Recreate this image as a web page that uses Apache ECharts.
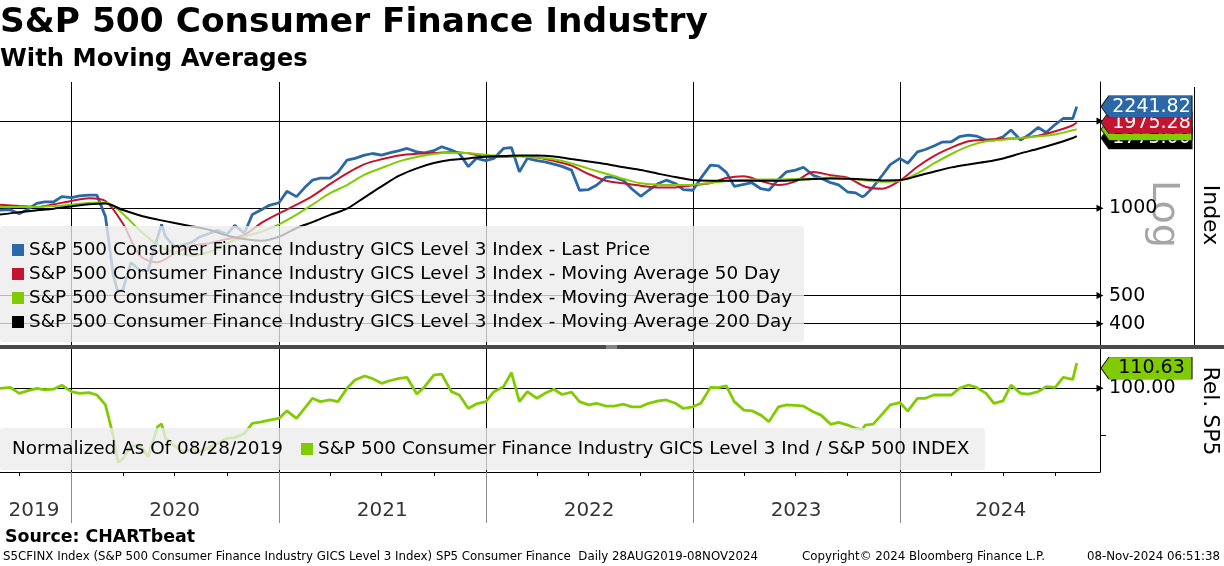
<!DOCTYPE html>
<html lang="en">
<head>
<meta charset="UTF-8">
<title>S&P 500 Consumer Finance Industry</title>
<script src="https://cdn.jsdelivr.net/npm/echarts@6.0.0/dist/echarts.min.js"></script>
<style>
  html, body { margin: 0; padding: 0; background: #fff; }
  #chart { width: 1224px; height: 566px; }
</style>
</head>
<body>
<div id="chart"></div>
<script>
// ---- data ----
// price and relative line: 28 Aug 2019, then the 1st and 15th of each month, then 8 Nov 2024
const priceDates = ['2019-08-28'];
for (let y = 2019; y <= 2024; y++) {
  for (let m = 1; m <= 12; m++) {
    for (const d of ['01', '15']) {
      const s = y + '-' + String(m).padStart(2, '0') + '-' + d;
      if (s > '2019-09-01' && s <= '2024-11-01') priceDates.push(s);
    }
  }
}
priceDates.push('2024-11-08');

const lastPrice = [
  985, 989, 958, 989, 1040, 1053, 1053, 1097,
  1089, 1103, 1110, 1110, 936, 585, 525, 650, 610, 610, 795, 798, 736, 745, 765, 798, 820, 840, 812, 873, 820, 952, 989, 1024,
  1045, 1144, 1097, 1176, 1250, 1270, 1270, 1330, 1466, 1486, 1525, 1545, 1525, 1552, 1580, 1608, 1566, 1552, 1580, 1630, 1587, 1545, 1392, 1486,
  1460, 1486, 1608, 1620, 1336, 1486, 1460, 1446, 1420, 1395, 1354, 1154, 1160, 1201, 1280, 1280, 1245, 1168, 1100, 1154, 1218, 1250, 1218, 1160,
  1154, 1270, 1409, 1400, 1330, 1190, 1210, 1225, 1168, 1154, 1258, 1336, 1354, 1385, 1300, 1270, 1225, 1205, 1138, 1130, 1110, 1185, 1300, 1415,
  1486, 1430, 1566, 1595, 1640, 1690, 1696, 1765, 1789, 1775, 1719, 1719, 1765, 1862, 1719, 1789, 1900, 1825, 1945, 2040, 2040, 2241.82
];

const relSP5 = [
  100.0, 100.4, 97.9, 98.9, 100.0, 99.4, 99.7, 101.3,
  98.6, 97.9, 98.2, 97.2, 93.0, 79.6, 70.4, 75.4, 76.1, 71.1, 83.8, 78.9, 75.7, 73.3, 74.0, 73.3, 75.2, 76.8, 78.9, 79.2, 81.0, 85.2, 85.9, 86.6,
  87.3, 90.5, 87.3, 91.5, 95.8, 94.4, 95.1, 94.4, 100.0, 103.5, 105.2, 104.1, 102.1, 103.2, 104.2, 104.6, 97.6, 100.7, 105.6, 106.0, 98.6, 97.2, 91.5, 93.4,
  94.4, 98.6, 100.7, 106.6, 94.4, 98.6, 95.8, 97.9, 99.6, 97.4, 98.4, 94.4, 93.0, 93.7, 92.5, 92.5, 93.3, 92.2, 92.2, 93.7, 94.7, 95.1, 93.7, 91.5,
  92.2, 93.7, 100.4, 100.3, 101.0, 94.4, 90.8, 90.5, 88.7, 85.9, 92.2, 93.0, 92.8, 92.5, 90.1, 88.7, 84.8, 85.6, 84.5, 83.1, 84.5, 84.9, 89.1, 93.0,
  94.0, 90.4, 95.8, 95.8, 97.2, 97.2, 97.2, 100.0, 101.4, 100.4, 97.9, 93.7, 94.7, 101.4, 97.9, 97.6, 98.6, 100.7, 100.4, 104.6, 103.8, 110.63
];

// extra turning points read between the half-month samples
const extraDates = ['2020-03-23', '2020-06-08', '2023-10-27'];
const extraPrice = [515, 880, 1095];
const extraRel = [68.8, 85.0, 82.6];

// moving averages: 28 Aug, 1 Oct, 1 Nov, 1 Dec 2019, then the 1st of each month, then 8 Nov 2024
const maDates = ['2019-08-28', '2019-10-01', '2019-11-01', '2019-12-01'];
for (let y = 2020; y <= 2024; y++) {
  for (let m = 1; m <= 12; m++) {
    const s = y + '-' + String(m).padStart(2, '0') + '-01';
    if (s <= '2024-11-01') maDates.push(s);
  }
}
maDates.push('2024-11-08');

const ma50 = [
  1029, 1018, 1010, 1032,
  1060, 1084, 1060, 884, 686, 651, 699, 743, 757, 783, 810, 890,
  960, 1029, 1102, 1212, 1320, 1420, 1476, 1522, 1543, 1551, 1559, 1547,
  1506, 1506, 1514, 1498, 1457, 1403, 1313, 1245, 1219, 1196, 1180, 1180,
  1200, 1222, 1272, 1289, 1242, 1203, 1238, 1334, 1300, 1275, 1187, 1168,
  1245, 1391, 1514, 1618, 1702, 1724, 1738, 1748, 1780, 1843, 1933, 1975.28
];
const ma100 = [
  1010, 1010, 1010, 1018,
  1029, 1045, 1048, 956, 837, 749, 704, 688, 708, 757, 799, 830,
  880, 951, 1029, 1127, 1203, 1306, 1377, 1451, 1502, 1539, 1555, 1551,
  1526, 1514, 1510, 1498, 1476, 1428, 1370, 1316, 1262, 1219, 1206, 1203,
  1206, 1222, 1242, 1255, 1258, 1258, 1262, 1268, 1277, 1268, 1248, 1235,
  1245, 1320, 1428, 1539, 1638, 1702, 1724, 1748, 1771, 1798, 1858, 1872
];
const ma200 = [
  951, 970, 984, 997,
  1015, 1032, 1038, 986, 944, 914, 889, 866, 842, 806, 783, 773,
  798, 855, 896, 949, 997, 1091, 1190, 1295, 1373, 1432, 1470, 1486,
  1510, 1514, 1522, 1522, 1510, 1478, 1451, 1421, 1384, 1355, 1316, 1281,
  1251, 1245, 1245, 1245, 1245, 1245, 1251, 1262, 1268, 1265, 1258, 1248,
  1251, 1292, 1337, 1384, 1417, 1447, 1486, 1547, 1604, 1669, 1748, 1775
];

const priceGrid = [2000, 1000, 500, 400];
const relGrid = [100];
const relTicks = [80];
const yearStarts = ['2020-01-01', '2021-01-01', '2022-01-01', '2023-01-01', '2024-01-01'];
const quarterTicks = [
  '2019-10-01', '2020-01-01', '2020-04-01', '2020-07-01', '2020-10-01', '2021-01-01', '2021-04-01',
  '2021-07-01', '2021-10-01', '2022-01-01', '2022-04-01', '2022-07-01', '2022-10-01', '2023-01-01',
  '2023-04-01', '2023-07-01', '2023-10-01', '2024-01-01', '2024-04-01', '2024-07-01', '2024-10-01'
];
const yearLabels = ['2019', '2020', '2021', '2022', '2023', '2024'];
const yearLabelDates = ['2019-10-27', '2020-07-01', '2021-07-02', '2022-07-02', '2023-07-02', '2024-06-27'];

const names = [
  'S&P 500 Consumer Finance Industry GICS Level 3 Index - Last Price',
  'S&P 500 Consumer Finance Industry GICS Level 3 Index - Moving Average 50 Day',
  'S&P 500 Consumer Finance Industry GICS Level 3 Index - Moving Average 100 Day',
  'S&P 500 Consumer Finance Industry GICS Level 3 Index - Moving Average 200 Day'
];
const relName = 'S&P 500 Consumer Finance Industry GICS Level 3 Ind / S&P 500 INDEX';

// ---- chart ----
const FONT = '"DejaVu Sans", Verdana, sans-serif';
const BLUE = '#2c68a8', RED = '#c4142f', GREEN = '#80cc00', BLACK = '#000000';
const X_MIN = '2019-08-28', X_MAX = '2024-12-19';
const ts = s => echarts.time.parse(s).getTime();
const zip = (dates, vals) => vals.map((v, i) => [dates[i], v]);
const withExtras = (pairs, extras) =>
  pairs.concat(zip(extraDates, extras)).sort((a, b) => (a[0] < b[0] ? -1 : a[0] > b[0] ? 1 : 0));

const chart = echarts.init(document.getElementById('chart'));

function lastTag(value, fill, textColor, shiftY, z) {
  return {
    z: z,
    silent: true,
    symbol: 'path://M0,11 L8,0 L92,0 L92,22 L8,22 Z',
    symbolSize: [91, 22],
    symbolKeepAspect: false,
    symbolOffset: [46.5, shiftY],
    itemStyle: { color: fill, borderColor: '#222', borderWidth: 0.6 },
    label: {
      show: true, position: 'inside', offset: [5, 0],
      color: textColor, fontSize: 19, fontFamily: FONT,
      formatter: () => value.toFixed(2)
    },
    data: [{ coord: [ts(X_MAX), value] }]
  };
}

function guide(axisIndex, lines, withArrow, labelFmt, color) {
  return {
    type: 'line', xAxisIndex: axisIndex, yAxisIndex: axisIndex, data: [], silent: true,
    markLine: {
      z: 1, silent: true, animation: false,
      symbol: withArrow ? ['none', 'triangle'] : ['none', 'none'],
      symbolSize: [7, 7],
      lineStyle: { color: color || '#000', width: 1, type: 'solid' },
      emphasis: { disabled: true },
      label: labelFmt ? {
        show: true, position: 'end', distance: 9, color: '#000',
        fontSize: 19, fontFamily: FONT, formatter: labelFmt
      } : { show: false },
      data: lines
    }
  };
}

const xCommon = {
  type: 'time', min: X_MIN, max: X_MAX,
  axisLabel: { show: false }, axisTick: { show: false },
  axisLine: { show: false }, splitLine: { show: false }
};
const legendText = { fontSize: 18.4, lineHeight: 20, color: '#000', fontFamily: FONT };

const option = {
  animation: false,
  textStyle: { fontFamily: FONT },
  grid: [
    { left: 0, top: 82, width: 1100, height: 264 },
    { left: 0, top: 349, width: 1100, height: 123 },
    { left: 0, top: 472, width: 1100, height: 51 }
  ],
  xAxis: [
    Object.assign({ gridIndex: 0 }, xCommon),
    Object.assign({}, xCommon, {
      gridIndex: 1,
      axisLine: { show: true, lineStyle: { color: '#000', width: 1 } },
      axisTick: { show: true, customValues: quarterTicks.map(ts), length: 4, lineStyle: { color: '#000' } }
    }),
    Object.assign({ gridIndex: 2 }, xCommon)
  ],
  yAxis: [
    {
      gridIndex: 0, type: 'log', logBase: 10, min: 335, max: 2726, position: 'right',
      axisLine: { show: true, lineStyle: { color: '#000', width: 1 } },
      axisTick: { show: false }, axisLabel: { show: false }, splitLine: { show: false }
    },
    {
      gridIndex: 1, type: 'value', min: 64.7, max: 116.6, position: 'right',
      axisLine: { show: true, lineStyle: { color: '#000', width: 1 } },
      axisTick: { show: true, customValues: relTicks, length: 6, lineStyle: { color: '#000' } },
      axisLabel: { show: false }, splitLine: { show: false }
    },
    { gridIndex: 2, type: 'value', min: 0, max: 1, show: false }
  ],
  legend: [
    {
      data: names, orient: 'vertical', left: 0, top: 226,
      padding: [14, 12, 10, 12], itemGap: 4,
      icon: 'rect', itemWidth: 12, itemHeight: 12,
      backgroundColor: 'rgba(236,236,236,0.78)', borderRadius: 3,
      textStyle: legendText, selectedMode: false
    },
    {
      data: [relName], left: 301, top: 439, padding: 0,
      icon: 'rect', itemWidth: 12, itemHeight: 12,
      textStyle: legendText, selectedMode: false
    }
  ],
  series: [
    guide(0, yearStarts.map(d => ({ xAxis: ts(d) })), false, null),
    guide(0, priceGrid.map(v => v === 2000 ? { yAxis: v, label: { show: false } } : { yAxis: v }), true, p => String(p.value)),
    guide(1, yearStarts.map(d => ({ xAxis: ts(d) })), false, null),
    guide(1, relGrid.map(v => ({ yAxis: v })), true, p => p.value.toFixed(2)),
    guide(2, yearStarts.map(d => ({ xAxis: ts(d) })), false, null, '#8c8c8c'),
    {
      name: names[0], type: 'line', xAxisIndex: 0, yAxisIndex: 0, z: 2,
      data: withExtras(zip(priceDates, lastPrice), extraPrice), symbol: 'none',
      lineStyle: { color: BLUE, width: 2.8 }, itemStyle: { color: BLUE },
      markPoint: lastTag(lastPrice[lastPrice.length - 1], BLUE, '#fff', 0, 9)
    },
    {
      name: names[1], type: 'line', xAxisIndex: 0, yAxisIndex: 0, z: 3, smooth: 0.3,
      data: zip(maDates, ma50), symbol: 'none',
      lineStyle: { color: RED, width: 2 }, itemStyle: { color: RED },
      markPoint: lastTag(ma50[ma50.length - 1], RED, '#fff', 0, 8)
    },
    {
      name: names[2], type: 'line', xAxisIndex: 0, yAxisIndex: 0, z: 3, smooth: 0.3,
      data: zip(maDates, ma100), symbol: 'none',
      lineStyle: { color: GREEN, width: 2 }, itemStyle: { color: GREEN },
      markPoint: lastTag(ma100[ma100.length - 1], GREEN, '#000', 0, 7)
    },
    {
      name: names[3], type: 'line', xAxisIndex: 0, yAxisIndex: 0, z: 3, smooth: 0.3,
      data: zip(maDates, ma200), symbol: 'none',
      lineStyle: { color: BLACK, width: 2 }, itemStyle: { color: BLACK },
      markPoint: lastTag(ma200[ma200.length - 1], BLACK, '#fff', 2, 6)
    },
    {
      name: relName, type: 'line', xAxisIndex: 1, yAxisIndex: 1, z: 2,
      data: withExtras(zip(priceDates, relSP5), extraRel), symbol: 'none',
      lineStyle: { color: GREEN, width: 2.8 }, itemStyle: { color: GREEN },
      markPoint: lastTag(relSP5[relSP5.length - 1], GREEN, '#000', 5, 9)
    },
    {
      type: 'scatter', xAxisIndex: 2, yAxisIndex: 2, silent: true,
      symbolSize: 0,
      data: yearLabels.map((t, i) => ({ value: [yearLabelDates[i], 0.24], name: t })),
      label: { show: true, position: 'inside', formatter: p => p.name, color: '#000', fontSize: 20, fontFamily: FONT }
    }
  ],
  graphic: [
    { type: 'text', x: 0, y: 23, style: { text: 'S&P 500 Consumer Finance Industry', font: 'bold 34.4px ' + FONT, fill: '#000', textVerticalAlign: 'middle' } },
    { type: 'text', x: 0, y: 60, style: { text: 'With Moving Averages', font: 'bold 24.3px ' + FONT, fill: '#000', textVerticalAlign: 'middle' } },
    { type: 'rect', z: 3, shape: { x: 0, y: 428, width: 985, height: 42, r: 3 }, style: { fill: 'rgba(236,236,236,0.78)' } },
    { type: 'text', z: 4, x: 12, y: 449, style: { text: 'Normalized As Of 08/28/2019', font: '18.4px ' + FONT, fill: '#000', textVerticalAlign: 'middle' } },
    { type: 'rect', z: 10, shape: { x: 0, y: 345, width: 1224, height: 4 }, style: { fill: '#4a4a4a' } },
    { type: 'line', z: 11, shape: { x1: 606, y1: 346, x2: 617, y2: 346 }, style: { stroke: '#bdbdbd', lineWidth: 1 } },
    { type: 'line', z: 11, shape: { x1: 606, y1: 348, x2: 617, y2: 348 }, style: { stroke: '#bdbdbd', lineWidth: 1 } },
    { type: 'line', shape: { x1: 1194.5, y1: 87, x2: 1194.5, y2: 345 }, style: { stroke: '#000', lineWidth: 1 } },
    { type: 'text', x: 1163, y: 214, rotation: -Math.PI / 2, style: { text: 'Log', font: '38px ' + FONT, fill: '#a6a6a6', textAlign: 'center', textVerticalAlign: 'middle' } },
    { type: 'text', x: 1210, y: 215, rotation: -Math.PI / 2, style: { text: 'Index', font: '22px ' + FONT, fill: '#000', textAlign: 'center', textVerticalAlign: 'middle' } },
    { type: 'text', x: 1210, y: 411, rotation: -Math.PI / 2, style: { text: 'Rel. SP5', font: '22px ' + FONT, fill: '#000', textAlign: 'center', textVerticalAlign: 'middle' } },
    { type: 'text', x: 5, y: 537, style: { text: 'Source: CHARTbeat', font: 'bold 17.4px ' + FONT, fill: '#000', textVerticalAlign: 'middle' } },
    { type: 'text', x: 3, y: 557, style: { text: 'S5CFINX Index (S&P 500 Consumer Finance Industry GICS Level 3 Index) SP5 Consumer Finance  Daily 28AUG2019-08NOV2024', font: '11.8px ' + FONT, fill: '#000', textVerticalAlign: 'middle' } },
    { type: 'text', x: 802, y: 557, style: { text: 'Copyright\u00a9 2024 Bloomberg Finance L.P.', font: '11.8px ' + FONT, fill: '#000', textVerticalAlign: 'middle' } },
    { type: 'text', x: 1220, y: 557, style: { text: '08-Nov-2024 06:51:38', font: '11.8px ' + FONT, fill: '#000', textAlign: 'right', textVerticalAlign: 'middle' } }
  ]
};

chart.setOption(option);
window.addEventListener('resize', () => chart.resize());
</script>
</body>
</html>
